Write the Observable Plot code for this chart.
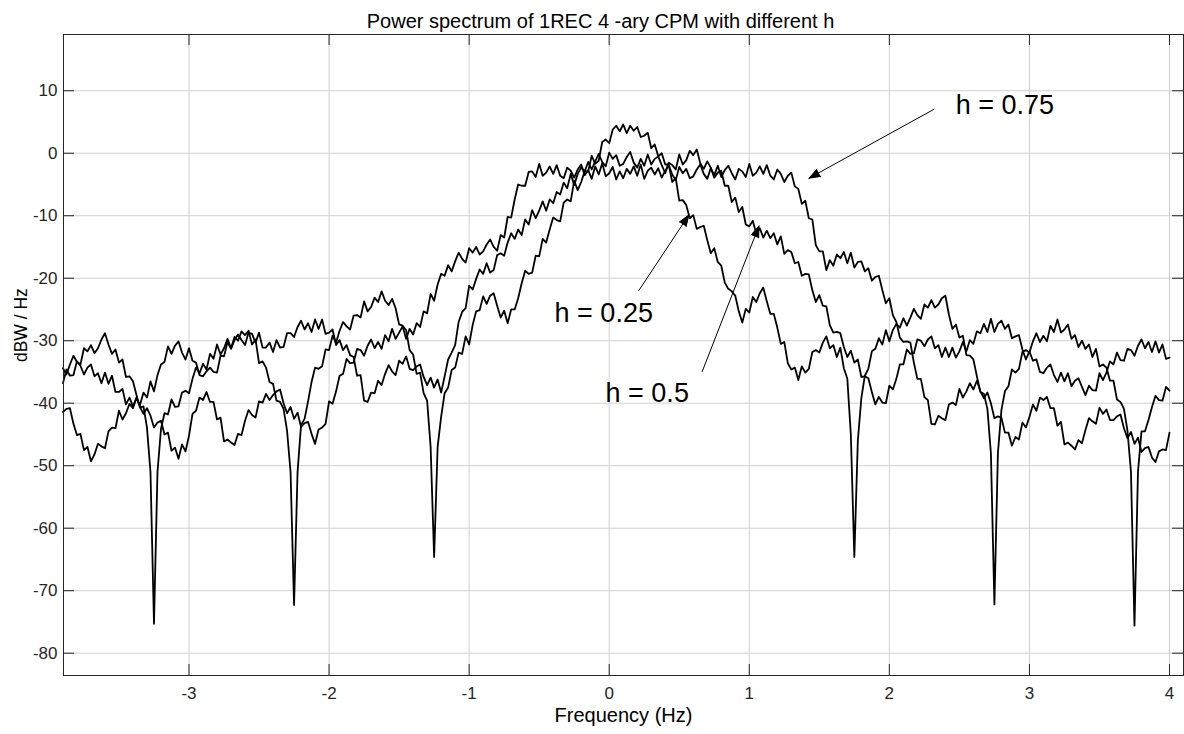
<!DOCTYPE html>
<html><head><meta charset="utf-8">
<script src="https://cdn.jsdelivr.net/npm/d3@7"></script>
<script src="https://cdn.jsdelivr.net/npm/@observablehq/plot@0.6"></script>
<style>body{margin:0;background:#fff}svg{display:block}</style>
</head><body><div id="chart"></div>
<script>
const title = "Power spectrum of 1REC 4 -ary CPM with different h";
const xLabel = "Frequency (Hz)";
const yLabel = "dBW / Hz";
const xTicks = [-3, -2, -1, 0, 1, 2, 3, 4];
const yTicks = [-80, -70, -60, -50, -40, -30, -20, -10, 0, 10];
const xDomain = [-3.896, 4.1];
const yDomain = [-83.57, 19];

// frequency bins: -3.9 ... 4.0 Hz, 0.025 Hz apart
const freqStart = -3.9, freqStep = 0.025;

// h = 0.25 (dBW/Hz), 10 bins per row
const dbH025 = [
-34.4,-35.4,-33.8,-32.4,-33.4,-33.8,-31.2,-31.7,-30.7,-32.0,
-31.2,-29.8,-28.8,-30.6,-32.1,-31.4,-33.5,-33.0,-35.8,-35.7,
-36.5,-38.7,-40.7,-40.5,-43.9,-51.0,-75.3,-51.0,-44.1,-41.6,
-41.8,-39.4,-40.6,-40.5,-38.3,-38.0,-38.4,-36.1,-34.3,-35.2,
-33.7,-34.6,-32.1,-32.9,-30.6,-32.2,-31.2,-29.7,-31.2,-29.4,
-30.0,-28.5,-29.1,-28.4,-30.6,-29.8,-33.6,-33.3,-34.3,-36.6,
-36.9,-39.6,-39.8,-40.9,-44.4,-51.0,-72.3,-51.0,-43.5,-42.5,
-39.7,-36.6,-34.3,-34.5,-34.1,-31.4,-31.5,-29.2,-30.3,-28.4,
-27.0,-27.7,-28.2,-26.0,-25.9,-26.3,-23.7,-25.3,-24.6,-23.1,
-23.8,-22.1,-23.6,-24.3,-23.3,-24.8,-27.4,-27.6,-28.3,-31.5,
-32.2,-35.3,-35.1,-38.4,-39.6,-47.0,-64.6,-47.0,-42.2,-38.4,
-37.5,-34.7,-34.3,-31.9,-32.1,-29.3,-30.6,-27.5,-25.3,-25.1,
-22.9,-24.1,-22.8,-22.4,-24.4,-26.3,-25.2,-27.2,-25.0,-25.0,
-23.2,-20.8,-18.8,-19.3,-19.1,-16.4,-16.5,-13.7,-14.3,-12.2,
-10.3,-10.7,-10.9,-7.9,-7.4,-7.7,-4.4,-5.9,-4.6,-2.9,
-2.9,-0.4,-1.7,-1.2,1.8,2.2,1.6,3.8,4.4,3.5,
4.6,3.2,4.4,3.6,4.2,2.6,2.8,3.3,0.8,1.4,
-0.5,0.0,-1.8,-1.8,-4.6,-4.0,-7.6,-7.5,-8.3,-10.4,
-9.9,-12.1,-11.8,-11.6,-13.9,-16.0,-15.2,-17.4,-18.0,-20.7,
-21.7,-22.1,-22.8,-25.3,-27.1,-24.9,-25.5,-23.0,-23.8,-22.4,
-21.5,-23.7,-25.7,-25.7,-27.9,-30.5,-30.2,-33.6,-34.6,-34.3,
-36.3,-34.1,-35.1,-34.5,-31.8,-31.5,-31.9,-30.3,-29.3,-31.2,
-30.7,-32.6,-31.1,-34.4,-36.1,-45.0,-64.6,-46.0,-39.2,-35.6,
-34.5,-31.7,-31.3,-29.6,-30.6,-28.3,-30.1,-28.3,-27.3,-27.9,
-26.4,-27.6,-26.3,-24.9,-25.9,-26.5,-24.2,-24.7,-23.5,-24.7,
-24.2,-23.2,-22.8,-25.8,-28.1,-27.4,-29.5,-29.2,-32.3,-32.4,
-33.0,-35.7,-38.2,-38.5,-40.9,-48.0,-72.2,-48.0,-41.1,-38.1,
-37.3,-34.6,-35.1,-34.5,-31.8,-31.5,-31.9,-30.1,-28.8,-30.2,
-29.2,-30.1,-27.6,-28.6,-26.6,-28.7,-28.2,-27.4,-29.7,-29.1,
-31.0,-30.0,-31.3,-30.6,-32.6,-31.3,-34.1,-33.8,-34.3,-36.4,
-36.4,-39.4,-39.8,-40.9,-44.4,-51.0,-75.6,-51.0,-44.5,-44.5,
-42.7,-40.6,-38.8,-39.5,-39.6,-37.4,-38.0
];

// h = 0.5
const dbH05 = [
-36.8,-34.6,-35.6,-35.5,-33.3,-34.0,-35.4,-34.3,-33.8,-35.7,
-35.2,-36.8,-35.1,-36.9,-35.6,-38.2,-38.2,-37.7,-40.2,-39.1,
-40.5,-39.2,-40.3,-38.3,-39.1,-36.5,-38.1,-35.5,-33.8,-33.4,
-30.9,-32.1,-30.8,-30.1,-31.9,-33.0,-31.2,-33.2,-33.5,-35.5,
-35.7,-34.9,-34.3,-35.0,-35.1,-32.4,-32.5,-30.2,-31.3,-29.9,
-29.0,-29.9,-30.7,-28.7,-28.9,-30.3,-28.7,-31.1,-31.1,-30.3,
-31.8,-29.9,-31.1,-31.0,-28.8,-28.8,-29.4,-27.8,-26.8,-28.2,
-27.2,-28.6,-26.6,-28.1,-26.6,-28.9,-28.7,-28.2,-30.7,-29.9,
-31.5,-30.7,-32.3,-32.6,-35.6,-35.5,-39.6,-39.8,-38.3,-38.4,
-36.4,-37.1,-35.3,-33.9,-34.9,-35.5,-33.2,-33.7,-32.5,-34.5,
-34.7,-34.1,-33.8,-35.8,-37.1,-35.9,-37.5,-36.2,-38.3,-35.7,
-33.0,-31.9,-30.7,-27.0,-25.4,-24.8,-21.2,-21.8,-20.1,-18.6,
-19.3,-17.6,-19.1,-18.7,-16.3,-16.0,-16.4,-14.3,-12.8,-13.7,
-12.2,-13.1,-10.6,-11.4,-9.1,-10.4,-9.2,-7.7,-9.2,-7.4,
-8.0,-6.2,-6.6,-4.7,-5.6,-3.3,-5.1,-3.3,-2.3,-2.9,
-1.4,-2.6,-1.3,-0.1,-1.4,-2.1,0.1,-0.9,-0.3,-2.0,
-1.7,-0.6,0.2,-1.5,-2.3,-0.9,-2.0,-0.2,-1.8,-0.9,
-0.5,-1.9,-3.2,-1.5,-1.9,-2.6,-0.2,-1.8,-1.1,0.4,
-0.3,0.6,-1.6,-2.5,-1.3,-2.3,-3.9,-3.1,-2.8,-5.2,
-5.2,-7.8,-7.1,-9.4,-8.6,-11.4,-11.7,-10.8,-12.9,-12.0,
-13.5,-12.4,-13.6,-12.8,-14.6,-13.3,-16.1,-15.5,-15.8,-17.6,
-17.4,-19.6,-19.3,-19.4,-21.9,-23.8,-22.7,-24.4,-24.5,-27.5,
-28.7,-28.6,-28.8,-31.0,-32.6,-31.6,-33.5,-33.0,-35.8,-35.7,
-36.0,-38.2,-40.2,-39.0,-39.9,-40.0,-37.2,-37.8,-36.1,-33.8,
-33.8,-31.4,-32.1,-32.0,-29.8,-30.0,-30.9,-29.8,-29.3,-31.2,
-30.7,-32.6,-31.1,-32.6,-31.1,-32.7,-31.7,-30.2,-31.7,-29.9,
-30.5,-28.5,-28.8,-27.3,-28.6,-26.5,-28.6,-27.3,-26.8,-28.1,
-27.4,-29.6,-29.3,-29.1,-31.4,-33.0,-31.7,-33.2,-33.0,-35.0,
-35.2,-34.3,-33.8,-35.5,-36.6,-35.1,-36.5,-35.2,-37.3,-36.4,
-36.0,-37.4,-38.7,-37.2,-37.9,-38.0,-35.2,-36.3,-35.1,-33.3,
-33.8,-31.9,-33.1,-33.2,-31.3,-31.5,-32.4,-30.8,-29.8,-31.2,
-30.2,-31.8,-30.1,-31.9,-30.6,-32.9,-32.7
];

// h = 0.75
const dbH075 = [
-41.4,-40.9,-40.8,-43.3,-45.1,-44.9,-47.5,-47.0,-49.3,-48.2,
-46.5,-46.9,-47.2,-44.5,-43.9,-44.0,-41.2,-42.6,-41.6,-40.1,
-40.8,-39.1,-40.6,-41.7,-40.8,-42.0,-43.9,-43.1,-42.8,-45.0,
-44.7,-47.6,-47.1,-48.9,-46.6,-47.7,-45.2,-41.7,-41.2,-39.1,
-39.5,-38.2,-39.8,-39.8,-42.6,-42.3,-46.1,-45.8,-46.3,-46.7,
-44.9,-45.1,-42.8,-41.1,-41.9,-42.3,-39.7,-39.9,-38.5,-39.5,
-38.7,-38.1,-37.8,-40.0,-41.6,-40.6,-42.5,-41.5,-43.8,-43.2,
-43.0,-44.9,-46.5,-44.2,-43.9,-43.3,-39.7,-40.1,-38.1,-35.6,
-35.3,-32.9,-33.6,-33.5,-31.3,-31.5,-32.4,-30.8,-29.8,-31.2,
-30.2,-31.3,-29.1,-30.1,-28.1,-29.7,-28.7,-27.7,-29.7,-28.1,
-29.0,-27.2,-27.8,-25.3,-25.6,-22.5,-23.6,-21.0,-19.3,-19.6,
-17.9,-18.9,-17.3,-15.9,-16.9,-17.5,-15.2,-15.9,-15.0,-16.2,
-15.7,-14.6,-13.8,-15.0,-15.6,-13.1,-13.5,-10.2,-10.3,-7.4,
-5.0,-5.2,-5.2,-3.0,-2.9,-3.8,-1.7,-3.6,-3.1,-2.1,
-3.3,-1.9,-3.6,-4.0,-2.3,-2.8,-3.9,-2.6,-1.8,-3.5,
-2.7,-4.1,-2.1,-3.4,-1.6,-3.7,-3.2,-2.2,-4.2,-2.9,
-4.0,-2.5,-3.3,-2.1,-3.6,-1.8,-4.1,-2.8,-2.3,-3.4,
-2.4,-3.9,-2.8,-1.9,-3.4,-4.3,-2.2,-3.2,-2.5,-4.0,
-3.7,-2.6,-1.8,-3.3,-4.1,-2.4,-3.5,-2.0,-3.8,-2.7,
-2.0,-3.2,-4.2,-2.5,-2.9,-3.8,-1.7,-3.6,-3.1,-2.1,
-3.3,-1.9,-3.6,-4.2,-2.6,-3.3,-4.6,-3.6,-3.1,-5.3,
-5.7,-8.1,-7.6,-10.4,-10.6,-14.7,-15.7,-15.7,-18.7,-17.1,
-18.0,-16.2,-16.8,-15.8,-17.6,-15.9,-18.3,-17.4,-17.3,-18.9,
-18.4,-20.4,-19.8,-19.6,-21.9,-24.0,-23.2,-25.9,-27.0,-29.5,
-30.2,-30.1,-30.3,-33.5,-36.1,-36.1,-39.0,-39.5,-43.3,-43.4,
-42.0,-42.4,-42.7,-40.2,-39.9,-40.3,-37.7,-39.1,-38.1,-36.8,
-37.8,-36.4,-38.1,-39.2,-38.3,-40.0,-42.4,-42.1,-42.3,-44.7,
-44.7,-46.8,-45.4,-45.8,-43.1,-43.9,-42.2,-40.2,-41.2,-39.1,
-39.5,-39.0,-40.8,-40.8,-43.6,-43.0,-46.6,-46.3,-46.8,-47.4,
-45.9,-46.4,-44.3,-42.4,-42.9,-43.3,-40.7,-41.7,-41.0,-42.7,
-42.7,-42.1,-41.8,-44.0,-45.6,-44.6,-46.5,-45.5,-47.8,-47.2,
-47.0,-48.7,-49.4,-47.7,-47.4,-47.5,-44.7
];

const series = [
  {h: "0.25", v: dbH025},
  {h: "0.5", v: dbH05},
  {h: "0.75", v: dbH075}
];
const rows = series.flatMap(s => s.v.map((v, i) => ({h: s.h, f: +(freqStart + i * freqStep).toFixed(3), v})));

// annotation arrows (data coordinates: tail -> tip) and labels
const annLabel = ["h = 0.75", "h = 0.25", "h = 0.5"];
const annTextX = [2.474, -0.39, -0.026];
const annTextY = [6.29, -26.98, -39.8];
const annTailX = [2.319, 0.211, 0.664];
const annTailY = [7.04, -21.98, -34.93];
const annTipX = [1.426, 0.569, 1.069];
const annTipY = [-4.0, -9.87, -11.63];
const anns = annLabel.map((t, i) => ({t, tx: annTextX[i], ty: annTextY[i], x1: annTailX[i], y1: annTailY[i], x2: annTipX[i], y2: annTipY[i]}));

const tickLenX = 11 / 140, tickLenY = 11 / 6.252;
const font = "'Liberation Sans', Arial, Helvetica, sans-serif";
const ink = "#262626";

const chart = Plot.plot({
  width: 1184, height: 734,
  marginLeft: 63, marginRight: 1, marginTop: 34, marginBottom: 59,
  style: {fontFamily: font, fontSize: "17px", color: ink, background: "#fff"},
  x: {domain: xDomain},
  y: {domain: yDomain},
  marks: [
    Plot.gridX(xTicks, {stroke: "#d0d0d0", strokeOpacity: 1}),
    Plot.gridY(yTicks, {stroke: "#d0d0d0", strokeOpacity: 1}),
    Plot.axisX(xTicks, {tickSize: 0, tickPadding: 11, fontSize: 17, label: null, tickFormat: d => String(d)}),
    Plot.axisY(yTicks, {tickSize: 0, tickPadding: 6, fontSize: 17, label: null, tickFormat: d => String(d)}),
    Plot.ruleX(xTicks, {y1: yDomain[0], y2: yDomain[0] + tickLenY, stroke: ink}),
    Plot.ruleX(xTicks, {y1: yDomain[1], y2: yDomain[1] - tickLenY, stroke: ink}),
    Plot.ruleY(yTicks, {x1: xDomain[0], x2: xDomain[0] + tickLenX, stroke: ink}),
    Plot.ruleY(yTicks, {x1: xDomain[1], x2: xDomain[1] - tickLenX, stroke: ink}),
    Plot.line(rows, {x: "f", y: "v", z: "h", stroke: "#000", strokeWidth: 1.8, strokeLinejoin: "round"}),
    Plot.arrow(anns, {x1: "x1", y1: "y1", x2: "x2", y2: "y2", stroke: "#000", fill: "#000", strokeWidth: 1, headLength: 18, headAngle: 40}),
    Plot.text(anns, {x: "tx", y: "ty", text: "t", textAnchor: "start", lineAnchor: "bottom", fontSize: 27, fill: "#000"}),
    Plot.frame({stroke: ink}),
    Plot.text([title], {frameAnchor: "top", dx: -23, dy: -6.5, lineAnchor: "bottom", fontSize: 20, fill: "#000"}),
    Plot.text([xLabel], {frameAnchor: "bottom", dy: 46, lineAnchor: "bottom", fontSize: 20, fill: "#000"}),
    Plot.text([yLabel], {x: xDomain[0], y: -27.5, dx: -42, rotate: -90, fontSize: 17.5, fill: "#000"})
  ]
});
document.getElementById("chart").appendChild(chart);
</script>
</body></html>
